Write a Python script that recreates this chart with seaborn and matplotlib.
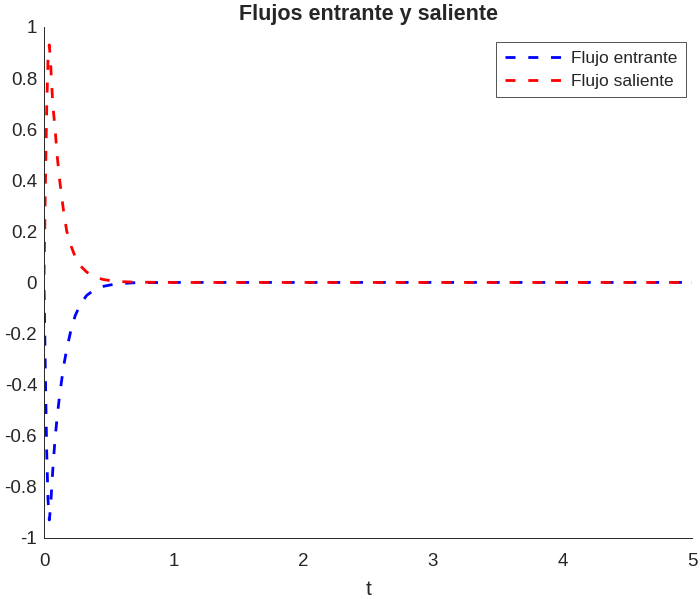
import numpy as np
import pandas as pd
import matplotlib
matplotlib.use("Agg")
import matplotlib.pyplot as plt
import seaborn as sns

# values
t_vals = [0, 0.01, 0.02, 0.03, 0.04, 0.05, 0.06, 0.07, 0.085, 0.10, 0.12, 0.15,
          0.175, 0.21, 0.24, 0.28, 0.33, 0.38, 0.45, 0.55, 0.7, 1.0, 2.0, 3.0, 4.0, 5.0]
flujo_saliente = [0.03, 0.38, 0.68, 0.87, 0.93, 0.86, 0.76, 0.68, 0.60, 0.50, 0.40, 0.28,
                  0.20, 0.14, 0.10, 0.065, 0.04, 0.025, 0.012, 0.004, 0.001, 0, 0, 0, 0, 0]
flujo_entrante = [-0.03, -0.36, -0.66, -0.85, -0.93, -0.88, -0.79, -0.71, -0.61, -0.53, -0.44, -0.33,
                  -0.26, -0.18, -0.13, -0.085, -0.05, -0.032, -0.016, -0.006, -0.001, 0, 0, 0, 0, 0]

df = pd.DataFrame({"t": t_vals, "entrante": flujo_entrante, "saliente": flujo_saliente})

sns.set_style("white")
plt.rcParams['font.family'] = ['Liberation Sans', 'DejaVu Sans']

fig = plt.figure(figsize=(7, 5.99), dpi=100)
ax = fig.add_axes([0.063, 0.102, 0.9257, 0.853])

sns.lineplot(data=df, x="t", y="entrante", ax=ax, color="#0000ff", lw=2,
             label="Flujo entrante")
sns.lineplot(data=df, x="t", y="saliente", ax=ax, color="#ff0000", lw=2,
             label="Flujo saliente")
for ln in ax.get_lines():
    ln.set_dashes((3.6, 4.6))

ax.set_xlim(0, 5)
ax.set_ylim(-1, 1)
ax.set_xticks(range(6))
yt = np.round(np.arange(-1, 1.01, 0.2), 1)
ax.set_yticks(yt)
ax.set_yticklabels([f"{v:g}" if abs(v) > 1e-9 else "0" for v in yt])
ax.tick_params(direction="in", length=4.3, labelsize=13.5, colors="#262626", width=0.6)
ax.tick_params(axis="y", pad=5)
ax.tick_params(axis="x", pad=11)

for s in ["top", "right"]:
    ax.spines[s].set_visible(False)
for s in ["left", "bottom"]:
    ax.spines[s].set_color("#262626")
    ax.spines[s].set_linewidth(0.7)

ax.set_xlabel("t", fontsize=15, color="#262626", labelpad=7)
ax.set_ylabel("")
ax.set_title("Flujos entrante y saliente", fontsize=15.5, fontweight="bold", pad=5)

leg = ax.legend(loc="upper right", bbox_to_anchor=(0.9907, 0.9706), borderaxespad=0,
                fontsize=12.5, frameon=True, fancybox=False, handlelength=3.2,
                borderpad=0.5, labelspacing=0.45, handletextpad=0.6)
leg.get_frame().set_edgecolor("#262626")
leg.get_frame().set_linewidth(0.7)

fig.savefig("out.png", dpi=100)
